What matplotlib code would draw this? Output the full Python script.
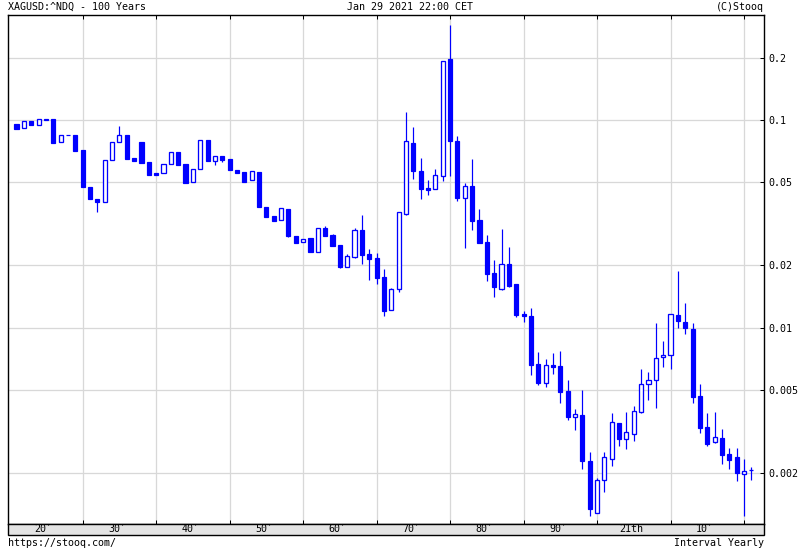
import matplotlib
matplotlib.use("Agg")
import matplotlib.pyplot as plt
import matplotlib.transforms as mtransforms
from matplotlib.patches import Rectangle
from matplotlib.ticker import FixedLocator, FixedFormatter, NullLocator
import numpy as np

# yearly OHLC of XAGUSD / ^NDQ
years = list(range(1921, 2022))
opens = [
    0.0956, 0.0912, 0.0986, 0.0943, 0.1008, 0.1008, 0.0781, 0.0849, 0.0847, 0.0713,
    0.0478, 0.0417, 0.0404, 0.0639, 0.0781, 0.0847, 0.0655, 0.0783, 0.0627, 0.0553,
    0.0553, 0.0613, 0.0701, 0.0613, 0.0501, 0.0578, 0.0798, 0.0632, 0.0668, 0.0648,
    0.0574, 0.0561, 0.0512, 0.0561, 0.0380, 0.0345, 0.0331, 0.0372, 0.0276, 0.0258,
    0.0270, 0.0232, 0.0302, 0.0278, 0.0250, 0.0196, 0.0219, 0.0295, 0.0226, 0.0216,
    0.0175, 0.0121, 0.0153, 0.0353, 0.0775, 0.0568, 0.0469, 0.0467, 0.0539, 0.1974,
    0.0792, 0.0422, 0.0479, 0.0330, 0.0258, 0.0183, 0.0154, 0.0202, 0.0162, 0.0116,
    0.0114, 0.00668, 0.00542, 0.00659, 0.00652, 0.00494, 0.00369, 0.00378, 0.00227, 0.00128,
    0.00185, 0.00233, 0.00346, 0.00291, 0.00308, 0.00393, 0.00532, 0.00556, 0.00718, 0.00734,
    0.0115, 0.0106, 0.00980, 0.00466, 0.00331, 0.00282, 0.00292, 0.00246, 0.00238, 0.00197,
    0.00205,
]
highs = [
    0.0956, 0.0986, 0.0986, 0.1008, 0.1008, 0.1008, 0.0847, 0.0849, 0.0847, 0.0713,
    0.0478, 0.0417, 0.0639, 0.0781, 0.0936, 0.0847, 0.0655, 0.0783, 0.0627, 0.0553,
    0.0611, 0.0701, 0.0701, 0.0613, 0.0578, 0.0798, 0.0798, 0.0668, 0.0668, 0.0648,
    0.0574, 0.0561, 0.0566, 0.0561, 0.0380, 0.0345, 0.0375, 0.0372, 0.0276, 0.0267,
    0.0270, 0.0302, 0.0309, 0.0282, 0.0250, 0.0226, 0.0301, 0.0348, 0.0238, 0.0228,
    0.0191, 0.0155, 0.0360, 0.1096, 0.0925, 0.0653, 0.0514, 0.0580, 0.1918, 0.2869,
    0.0837, 0.0497, 0.0648, 0.0373, 0.0279, 0.0211, 0.0298, 0.0245, 0.0162, 0.0120,
    0.0124, 0.00762, 0.00705, 0.00751, 0.00770, 0.00558, 0.00404, 0.00498, 0.00251, 0.00189,
    0.00251, 0.00387, 0.00346, 0.00391, 0.00420, 0.00631, 0.00610, 0.01046, 0.00860, 0.0116,
    0.0187, 0.0131, 0.0105, 0.00535, 0.00386, 0.00391, 0.00325, 0.00264, 0.00263, 0.00233,
    0.00212,
]
lows = [
    0.0908, 0.0912, 0.0943, 0.0943, 0.1003, 0.0777, 0.0781, 0.0845, 0.0711, 0.0477,
    0.0417, 0.0361, 0.0404, 0.0639, 0.0781, 0.0650, 0.0636, 0.0622, 0.0545, 0.0545,
    0.0553, 0.0613, 0.0608, 0.0499, 0.0501, 0.0578, 0.0632, 0.0608, 0.0629, 0.0576,
    0.0557, 0.0504, 0.0512, 0.0382, 0.0339, 0.0327, 0.0331, 0.0274, 0.0256, 0.0258,
    0.0232, 0.0232, 0.0277, 0.0248, 0.0194, 0.0196, 0.0216, 0.0203, 0.0169, 0.0162,
    0.0113, 0.0121, 0.0148, 0.0348, 0.0520, 0.0417, 0.0435, 0.0467, 0.0508, 0.0537,
    0.0407, 0.0242, 0.0295, 0.0255, 0.0167, 0.0140, 0.0152, 0.0156, 0.0112, 0.0106,
    0.00592, 0.00530, 0.00519, 0.00598, 0.00431, 0.00358, 0.00321, 0.00209, 0.00124, 0.00128,
    0.00162, 0.00214, 0.00270, 0.00260, 0.00285, 0.00388, 0.00448, 0.00410, 0.00645, 0.00633,
    0.0100, 0.00933, 0.00434, 0.00310, 0.00270, 0.00278, 0.00221, 0.00208, 0.00183, 0.00124,
    0.00184,
]
closes = [
    0.0908, 0.0986, 0.0943, 0.1008, 0.1003, 0.0777, 0.0847, 0.0845, 0.0711, 0.0477,
    0.0417, 0.0403, 0.0639, 0.0781, 0.0847, 0.0650, 0.0636, 0.0622, 0.0545, 0.0545,
    0.0611, 0.0701, 0.0608, 0.0499, 0.0578, 0.0798, 0.0632, 0.0668, 0.0643, 0.0576,
    0.0557, 0.0504, 0.0566, 0.0382, 0.0339, 0.0327, 0.0375, 0.0277, 0.0256, 0.0267,
    0.0232, 0.0302, 0.0277, 0.0248, 0.0195, 0.0220, 0.0295, 0.0224, 0.0214, 0.0173,
    0.0120, 0.0153, 0.0360, 0.0790, 0.0570, 0.0467, 0.0461, 0.0541, 0.1918, 0.0792,
    0.0420, 0.0479, 0.0327, 0.0255, 0.0182, 0.0156, 0.0203, 0.0159, 0.0115, 0.0113,
    0.00662, 0.00542, 0.00659, 0.00647, 0.00491, 0.00371, 0.00382, 0.00228, 0.00133, 0.00185,
    0.00237, 0.00349, 0.00291, 0.00313, 0.00397, 0.00532, 0.00556, 0.00710, 0.00739, 0.0116,
    0.0107, 0.0100, 0.00464, 0.00329, 0.00275, 0.00296, 0.00244, 0.00231, 0.00198, 0.00204,
    0.00206,
]

y_ticks = [0.002, 0.005, 0.01, 0.02, 0.05, 0.1, 0.2]
y_labels = ["0.002", "0.005", "0.01", "0.02", "0.05", "0.1", "0.2"]
decades = [1920, 1930, 1940, 1950, 1960, 1970, 1980, 1990, 2000, 2010]
decade_labels = ["20\u2032", "30\u2032", "40\u2032", "50\u2032", "60\u2032",
                 "70\u2032", "80\u2032", "90\u2032", "21th", "10\u2032"]

plt.rcParams["font.family"] = ["DejaVu Sans Mono", "DejaVu Sans"]
plt.rcParams["font.size"] = 7.2

BLUE = "#0000ff"
GRID = "#d8d8d8"
PX = 0.72  # one pixel in points at dpi 100

fig = plt.figure(figsize=(8, 5.5), dpi=100)
ax = fig.add_axes([8 / 800, 1 - 524 / 550, 756 / 800, 509 / 550])

yrs = np.array(years)
o = np.array(opens); h = np.array(highs); l = np.array(lows); c = np.array(closes)
up = c >= o

ax.vlines(yrs, l, h, color=BLUE, lw=PX * 1.2, zorder=2)
lo_body = np.minimum(o, c)
hi_body = np.maximum(o, c)
ax.bar(yrs[~up], (hi_body - lo_body)[~up], bottom=lo_body[~up], width=0.56,
       color=BLUE, edgecolor=BLUE, lw=PX * 1.2, zorder=3)
ax.bar(yrs[up], (hi_body - lo_body)[up], bottom=lo_body[up], width=0.56,
       color="white", edgecolor=BLUE, lw=PX * 1.3, zorder=3)

ax.set_yscale("log")
ax.set_xlim(1919.84, 2022.72)
ax.set_ylim(0.00113, 0.3206)

ax.yaxis.set_major_locator(FixedLocator(y_ticks))
ax.yaxis.set_major_formatter(FixedFormatter(y_labels))
ax.yaxis.set_minor_locator(NullLocator())
ax.xaxis.set_major_locator(FixedLocator(decades[1:] + [2020]))
ax.xaxis.set_minor_locator(NullLocator())
ax.grid(True, color=GRID, lw=PX * 1.3, zorder=0)
ax.set_axisbelow(True)

ax.tick_params(axis="y", direction="in", length=3, width=PX, right=True, left=False,
               labelright=True, labelleft=False, pad=3.4, colors="black")
ax.tick_params(axis="x", direction="in", length=3, width=PX, top=True, bottom=True,
               labelbottom=False, colors="black")
for s in ax.spines.values():
    s.set_color("black")
    s.set_linewidth(PX * 1.4)

# gray band with decade labels under the plot
fig.patches.append(Rectangle((8 / 800, 1 - 535 / 550), 756 / 800, 11 / 550,
                             transform=fig.transFigure, facecolor="#e4e4e4",
                             edgecolor="black", lw=PX * 1.4, zorder=0))
trans = mtransforms.blended_transform_factory(ax.transData, fig.transFigure)
for d, lab in zip(decades, decade_labels):
    fig.text(d + 4.7, 1 - 529.5 / 550, lab, transform=trans, ha="center",
             va="center", zorder=5)

fig.text(8 / 800, 1 - 7 / 550, "XAGUSD:^NDQ - 100 Years", ha="left", va="center")
fig.text(410 / 800, 1 - 7 / 550, "Jan 29 2021 22:00 CET", ha="center", va="center")
fig.text(764 / 800, 1 - 7 / 550, "(C)Stooq", ha="right", va="center")
fig.text(8 / 800, 1 - 543 / 550, "https://stooq.com/", ha="left", va="center")
fig.text(764 / 800, 1 - 543 / 550, "Interval Yearly", ha="right", va="center")

fig.savefig("out.png", dpi=100, facecolor="white")
